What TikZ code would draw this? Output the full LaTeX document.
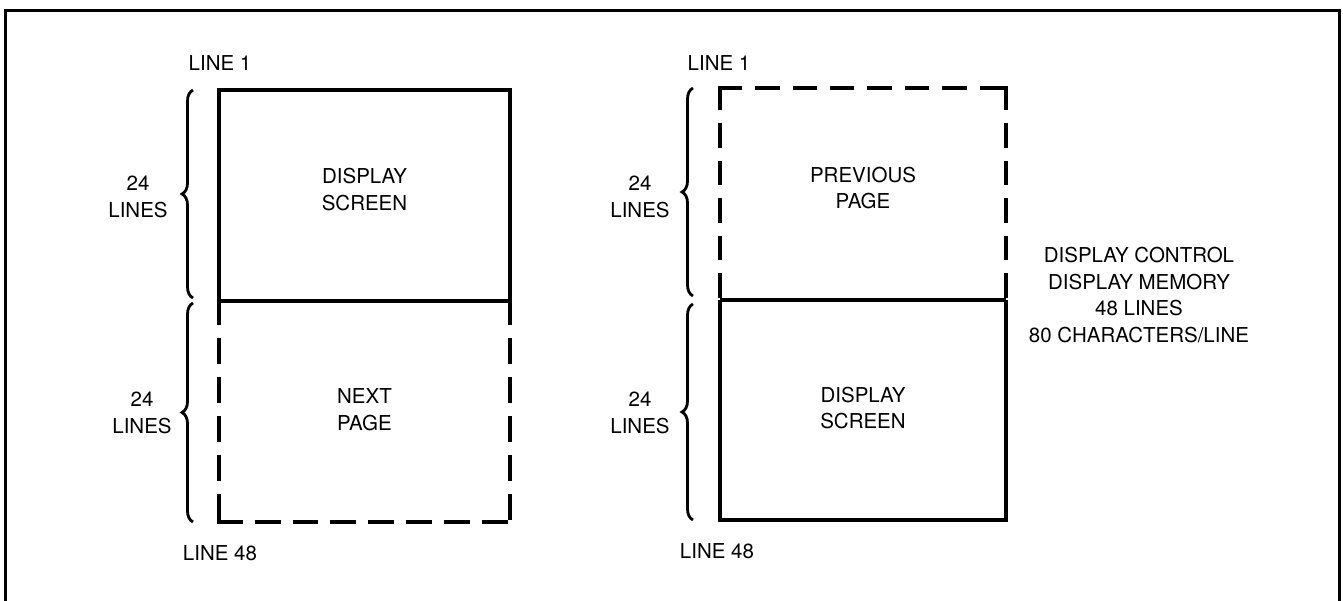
\documentclass[tikz,border=0pt]{standalone}
\usepackage{fontspec}
\setmainfont{TeX Gyre Heros}
\usetikzlibrary{decorations.pathreplacing}
\begin{document}
\begin{tikzpicture}[x=1pt,y=-1pt,
  region/.style={draw=none, inner sep=0pt, outer sep=0pt},
  lbl/.style={font=\fontsize{20.5}{26.6}\selectfont, align=center, inner sep=0pt},
  frameline/.style={line width=3pt},
  boxline/.style={line width=4.6pt},
  midline/.style={line width=4pt},
  dashbase/.style={line width=4.6pt, line cap=rect},
  dashvl/.style={dashbase, dash pattern=on 21.4pt off 17.6pt},
  dashhl/.style={dashbase, dash pattern=on 21.3pt off 16.6pt},
  dashvr/.style={dashbase, dash pattern=on 19.9pt off 17.6pt},
  dashhr/.style={dashbase, dash pattern=on 19.8pt off 17.6pt},
  bracestyle/.style={line width=2.8pt, decorate, decoration={brace, amplitude=11pt}}
]
\useasboundingbox (0,0) rectangle (1343,600);
% outer frame
\draw[frameline] (5,604) -- (5,10) -- (1339,10) -- (1339,604);

% regions
\node[region, minimum width=291pt, minimum height=211pt] (ds1) at (364.5,195.5) {};
\node[region, minimum width=291pt, minimum height=221pt] (np1) at (364.5,411.5) {};
\node[region, minimum width=286pt, minimum height=212pt] (pp2) at (863,194) {};
\node[region, minimum width=286pt, minimum height=220pt] (ds2) at (863,410) {};

% texts inside
\node[lbl] (t1) at ([yshift=6pt]ds1.center) {DISPLAY\\SCREEN};
\node[lbl] (t2) at ([yshift=2pt]np1.center) {NEXT\\PAGE};
\node[lbl] (t3) at ([yshift=6pt]pp2.center) {PREVIOUS\\PAGE};
\node[lbl] (t4) at ([yshift=2pt]ds2.center) {DISPLAY\\SCREEN};

% left panel borders
\draw[boxline] (ds1.south west) -- (ds1.north west) -- (ds1.north east) -- (ds1.south east);
\draw[midline] (ds1.south west) -- (ds1.south east);
\draw[dashvl] (np1.north west) -- (np1.south west);
\draw[dashvl] (np1.north east) -- (np1.south east);
\draw[dashhl] (np1.south west) -- (np1.south east);

% right panel borders
\draw[dashhr] (pp2.north west) -- (pp2.north east);
\draw[dashvr] (pp2.north west) -- (pp2.south west);
\draw[dashvr] (pp2.north east) -- (pp2.south east);
\draw[midline] (ds2.north west) -- (ds2.north east);
\draw[boxline] (ds2.north west) -- (ds2.south west) -- (ds2.south east) -- (ds2.north east);

% braces
\draw[bracestyle] ([xshift=-26pt, yshift=3pt]ds1.south west) -- ([xshift=-26pt]ds1.north west);
\draw[bracestyle] ([xshift=-26pt]np1.south west) -- ([xshift=-26pt, yshift=-2pt]np1.north west);
\draw[bracestyle] ([xshift=-27pt, yshift=4pt]pp2.south west) -- ([xshift=-27pt]pp2.north west);
\draw[bracestyle] ([xshift=-27pt]ds2.south west) -- ([xshift=-27pt, yshift=-4pt]ds2.north west);

% labels
\node[lbl] (a1) at (220,63) {LINE 1};
\node[lbl] (a48) at (220,553) {LINE 48};
\node[lbl] (ac1) at (138,197) {24\\LINES};
\node[lbl] (ac2) at (142,413) {24\\LINES};
\node[lbl] (b1) at (719,63) {LINE 1};
\node[lbl] (b48) at (717,551) {LINE 48};
\node[lbl] (bc1) at (640,197) {24\\LINES};
\node[lbl] (bc2) at (640,413) {24\\LINES};
\node[lbl] (info) at (1139,295) {DISPLAY CONTROL\\DISPLAY MEMORY\\48 LINES\\80 CHARACTERS/LINE};
\end{tikzpicture}
\end{document}
